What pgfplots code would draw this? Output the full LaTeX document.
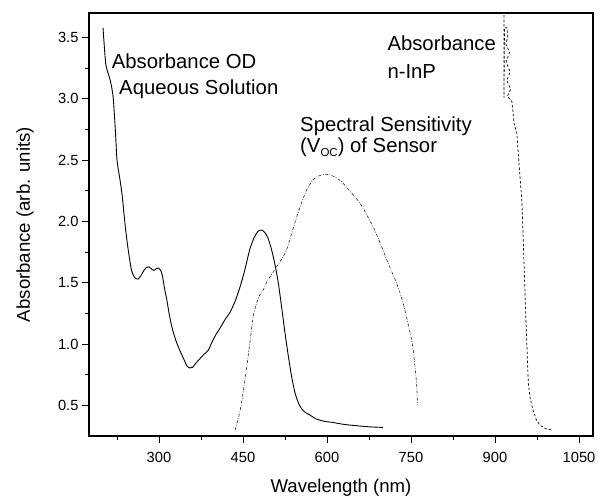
\documentclass[border=0pt]{standalone}
\usepackage{fontspec}
\setmainfont{Liberation Sans}
\usepackage{pgfplots}
\pgfplotsset{compat=1.18}
\begin{document}
\begin{tikzpicture}
\useasboundingbox (-89pt,-62.3pt) rectangle (518pt,436pt);
\begin{axis}[
  scale only axis, width=504pt, height=423pt,
  xmin=175, xmax=1075, ymin=0.25, ymax=3.7,
  xtick={300,450,...,1050}, minor xtick={225,375,...,975},
  ytick={0.5,1.0,...,3.5}, minor ytick={0.75,1.25,...,3.25},
  tick align=outside, tickpos=left,
  major tick length=7pt, minor tick length=4pt,
  axis line style={line width=1.1pt},
  every tick/.style={black, line width=0.9pt},
  /pgf/number format/assume math mode=true,
  tick label style={font=\fontsize{14.7}{17}\selectfont},
  yticklabel style={/pgf/number format/.cd, fixed, fixed zerofill, precision=1},
  xticklabel style={yshift=-5.5pt, /pgf/number format/.cd, fixed, 1000 sep={}},
  label style={font=\fontsize{18.6}{22}\selectfont},
  xlabel={Wavelength (nm)}, ylabel={Absorbance (arb. units)},
  xlabel style={at={(axis description cs:0.5,-0.123)}, anchor=center},
  ylabel style={at={(axis description cs:-0.127,0.5)}, anchor=center},
  clip=true,
]
% Absorbance OD aqueous solution (solid)
\addplot[black, line width=0.9pt, smooth, tension=0.4] coordinates {
(200,3.58) (202,3.45) (205,3.28) (209,3.21) (213,3.15) (218,3.02) (222,2.75)
(225,2.50) (230,2.35) (234,2.22) (240,1.95) (245,1.77) (251,1.60) (257,1.54)
(263,1.53) (268,1.56) (273,1.60) (278,1.625) (282,1.63) (287,1.61) (291,1.60)
(295,1.615) (299,1.62) (303,1.60) (306,1.56) (310,1.45) (314,1.36) (318,1.25)
(323,1.14) (330,1.03) (337,0.95) (345,0.87) (350,0.82) (355,0.805) (360,0.81)
(366,0.845) (373,0.88) (380,0.915) (388,0.95) (395,1.02) (402,1.08) (409,1.13)
(418,1.20) (427,1.26) (436,1.35) (445,1.47) (453,1.60) (462,1.77) (470,1.87)
(477,1.92) (483,1.93) (489,1.91) (495,1.86) (501,1.77) (507,1.65) (513,1.50)
(519,1.30) (525,1.09) (531,0.90) (537,0.73) (543,0.60) (549,0.52) (555,0.47)
(562,0.44) (570,0.42) (580,0.39) (595,0.37) (611,0.36) (630,0.345) (650,0.335)
(675,0.325) (700,0.32)
};
% Spectral sensitivity (dash-dot)
\addplot[black!85, line width=0.6pt, smooth, tension=0.4,
  dash pattern=on 3pt off 1.5pt on 0.8pt off 1.5pt] coordinates {
(436,0.30) (440,0.37) (445,0.46) (450,0.60) (456,0.79) (462,1.00) (468,1.22)
(474,1.33) (480,1.40) (486,1.44) (493,1.51) (500,1.56) (510,1.63) (520,1.70)
(528,1.77) (540,1.95) (552,2.12) (563,2.25) (575,2.34) (585,2.37) (595,2.385)
(605,2.38) (615,2.36) (627,2.32) (640,2.25) (652,2.19) (663,2.12) (675,2.02)
(686,1.92) (698,1.79) (710,1.65) (724,1.50) (735,1.35) (742,1.22) (749,1.08)
(754,0.95) (757,0.82) (760,0.68) (761,0.58) (761.5,0.50)
};
% Absorbance n-InP (dashed)
\addplot[black, line width=0.7pt, dash pattern=on 2.5pt off 2pt] coordinates {
(916,3.72) (916,3.01) (917,3.58) (921,3.58) (923,3.50) (919,3.45) (926,3.38)
(920,3.30) (927,3.22) (921,3.15) (928,3.08) (922,3.02) (930,2.98) (932,2.90)
(934,2.80) (939,2.72) (944,2.40) (948,2.17) (951,1.77) (955,1.22) (959.5,0.68)
(963,0.55) (968,0.46) (974,0.38) (980,0.34) (990,0.31) (1001,0.30)
};
\node[anchor=base west, inner sep=0pt, font=\fontsize{20.3}{24}\selectfont] at (axis cs:215.5,3.251) {Absorbance OD};
\node[anchor=base west, inner sep=0pt, font=\fontsize{20.3}{24}\selectfont] at (axis cs:228.6,3.039) {Aqueous Solution};
\node[anchor=base west, inner sep=0pt, font=\fontsize{20.3}{24}\selectfont] at (axis cs:551.8,2.732) {Spectral Sensitivity};
\node[anchor=base west, inner sep=0pt, font=\fontsize{20.3}{24}\selectfont] at (axis cs:551.8,2.566) {(V\raisebox{-4.5pt}{\fontsize{11.5}{12}\selectfont OC}) of Sensor};
\node[anchor=base west, inner sep=0pt, font=\fontsize{20.3}{24}\selectfont] at (axis cs:707.7,3.398) {Absorbance};
\node[anchor=base west, inner sep=0pt, font=\fontsize{20.3}{24}\selectfont] at (axis cs:707.7,3.167) {n-InP};
\end{axis}
\end{tikzpicture}
\end{document}
